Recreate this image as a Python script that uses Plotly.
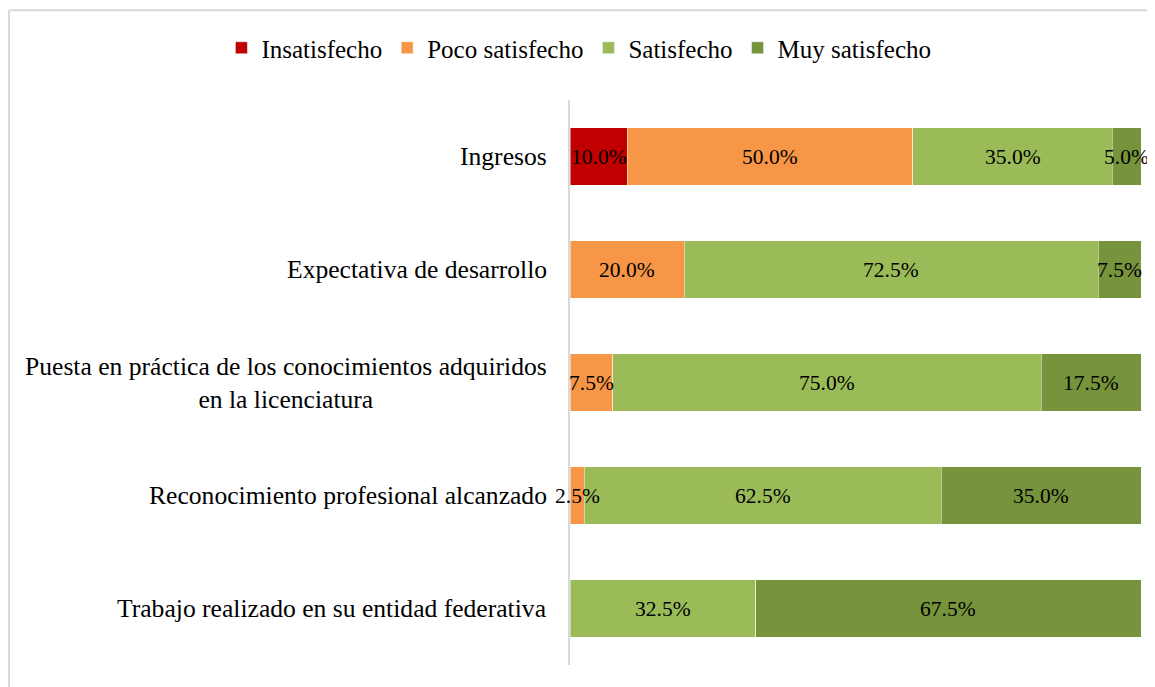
import plotly.graph_objects as go

categories = [
    "Ingresos",
    "Expectativa de desarrollo",
    "Puesta en práctica de los conocimientos adquiridos<br>en la licenciatura",
    "Reconocimiento profesional alcanzado",
    "Trabajo realizado en su entidad federativa",
]
series_names = ["Insatisfecho", "Poco satisfecho", "Satisfecho", "Muy satisfecho"]
insatisfecho = [10.0, 0, 0, 0, 0]
poco = [50.0, 20.0, 7.5, 2.5, 0]
satisfecho = [35.0, 72.5, 75.0, 62.5, 32.5]
muy = [5.0, 7.5, 17.5, 35.0, 67.5]
colors = ["#C00000", "#F79646", "#9BBB59", "#77933C"]

FONT = "Liberation Serif"
series = [insatisfecho, poco, satisfecho, muy]

fig = go.Figure()
for name, vals, col in zip(series_names, series, colors):
    fig.add_trace(go.Bar(
        y=categories, x=vals, name=name, orientation="h",
        marker=dict(color=col, line=dict(color="rgba(255,255,255,0.6)", width=0.8)),
        width=0.51, textposition="none",
    ))

annotations = []
cum = [0.0] * len(categories)
for vals in series:
    for i, v in enumerate(vals):
        if v > 0:
            annotations.append(dict(
                x=cum[i] + v / 2, y=categories[i], xref="x", yref="y",
                text=f"{v:.1f}%", showarrow=False,
                font=dict(family=FONT, size=21.5, color="#000000"),
            ))
        cum[i] += v

for c in categories:
    annotations.append(dict(
        x=0, y=c, xref="paper", yref="y", xanchor="right", yanchor="middle",
        xshift=-21, text=c, showarrow=False, align="center",
        font=dict(family=FONT, size=25.6, color="#000000"),
    ))

# page body has an 8px margin, so the figure is sized/offset to compensate
fig.update_layout(
    barmode="stack",
    width=1147, height=679,
    margin=dict(l=562, r=14, t=92, b=22, autoexpand=False),
    paper_bgcolor="white", plot_bgcolor="white",
    font=dict(family=FONT, size=20, color="#000000"),
    xaxis=dict(range=[0, 100], visible=False, fixedrange=True),
    yaxis=dict(autorange="reversed", showticklabels=False, showline=True,
               linecolor="#D9D9D9", linewidth=2, ticks="", showgrid=False),
    legend=dict(orientation="h", xref="paper", yref="paper",
                x=-0.6105, y=1.092, xanchor="left", yanchor="middle",
                font=dict(family=FONT, size=25), traceorder="normal",
                itemwidth=30),
    annotations=annotations,
    shapes=[
        dict(type="line", xref="paper", yref="paper", x0=-0.9825, x1=-0.9825,
             y0=1.159, y1=-0.06, line=dict(color="#D9D9D9", width=2)),
        dict(type="line", xref="paper", yref="paper", x0=-0.9825, x1=1.05,
             y0=1.159, y1=1.159, line=dict(color="#D9D9D9", width=2)),
    ],
    showlegend=True,
)

fig.write_html("out.html")
